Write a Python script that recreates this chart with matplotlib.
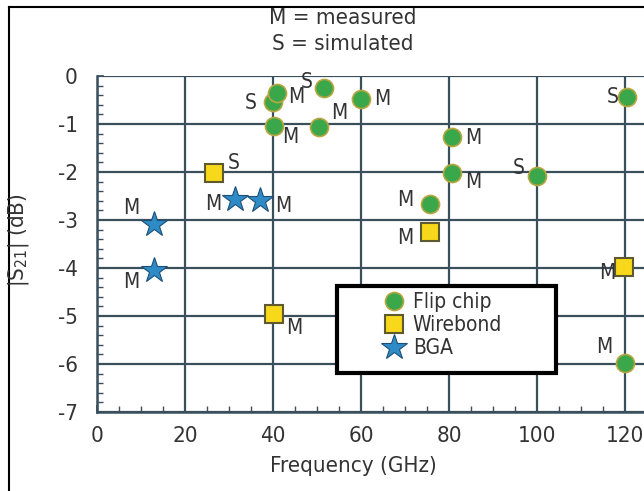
import matplotlib
matplotlib.use("Agg")
from matplotlib import pyplot as plt
from matplotlib.lines import Line2D
from matplotlib.patches import Rectangle
from matplotlib.ticker import MultipleLocator

# frequency (GHz), |S21| (dB), note (M = measured, S = simulated)
flip_x = [40.0, 41.0, 40.3, 50.5, 51.5, 60.0, 80.6, 80.6, 75.7, 100.0, 120.5, 120.0]
flip_y = [-0.55, -0.35, -1.04, -1.06, -0.24, -0.47, -1.28, -2.03, -2.67, -2.08, -0.44, -5.98]
flip_note = ['S', 'M', 'M', 'M', 'S', 'M', 'M', 'M', 'M', 'S', 'S', 'M']

wire_x = [26.5, 75.7, 40.3, 119.8]
wire_y = [-2.03, -3.25, -4.96, -3.98]
wire_note = ['S', 'M', 'M', 'M']

bga_x = [13.0, 13.0, 31.3, 37.0]
bga_y = [-3.08, -4.04, -2.57, -2.58]
bga_note = ['M', 'M', 'M', 'M']

# label offsets in pixels (dx, dy)
flip_off = [(-22, -1), (19, -4), (16, -11), (20, 14), (-17, 6), (21, 0),
            (22, -1), (22, -9), (-25, 4), (-18, 8), (-15, 0), (-21, 16)]
wire_off = [(20, 10), (-25, -6), (20, -14), (-17, -6)]
bga_off = [(-23, 16), (-23, -12), (-21, -5), (23, -6)]

plt.rcParams['font.family'] = ['DejaVu Sans']
plt.rcParams['font.stretch'] = 'condensed'
plt.rcParams['axes.unicode_minus'] = False
txt = '#333333'
grid_c = '#3a4f5c'

fig = plt.figure(figsize=(6.44, 4.91), dpi=100)
ax = fig.add_axes([97 / 644, 1 - 412 / 491, 547 / 644, 336 / 491])

ax.set_xlim(0, 124.3)
ax.set_ylim(-7, 0)
ax.xaxis.set_major_locator(MultipleLocator(20))
ax.xaxis.set_minor_locator(MultipleLocator(5))
ax.yaxis.set_major_locator(MultipleLocator(1))
ax.yaxis.set_minor_locator(MultipleLocator(0.2))
ax.grid(True, which='major', color=grid_c, lw=1.6)
ax.set_axisbelow(True)
for s in ['top', 'right']:
    ax.spines[s].set_visible(False)
for s in ['left', 'bottom']:
    ax.spines[s].set_color(grid_c)
    ax.spines[s].set_linewidth(1.8)
ax.tick_params(which='both', direction='in', colors=grid_c, labelcolor=txt, labelsize=16)
ax.tick_params(which='major', length=5, width=1.2)
ax.tick_params(which='minor', length=4, width=1.0)
ax.tick_params(axis='y', pad=14)
ax.tick_params(axis='x', pad=10)

ax.plot(flip_x, flip_y, 'o', ms=13, mfc='#3aa84a', mec='#b8a640', mew=1.2,
        ls='none', label='Flip chip', zorder=3)
ax.plot(wire_x, wire_y, 's', ms=13, mfc='#f8d81a', mec='#5d5a30', mew=1.5,
        ls='none', label='Wirebond', zorder=3)
ax.plot(bga_x, bga_y, '*', ms=19, mfc='#2f8bc6', mec='#1d4f78', mew=0.8,
        ls='none', label='BGA', zorder=3)

for xs, ys, notes, offs in [(flip_x, flip_y, flip_note, flip_off),
                            (wire_x, wire_y, wire_note, wire_off),
                            (bga_x, bga_y, bga_note, bga_off)]:
    for x, y, n, o in zip(xs, ys, notes, offs):
        ax.annotate(n, (x, y), xytext=o, textcoords='offset pixels',
                    ha='center', va='center', fontsize=15, color=txt, zorder=4)

# legend box drawn separately so it can be wider than its contents
box = Rectangle((0.439, 0.116), 0.40, 0.259, transform=ax.transAxes,
                facecolor='white', edgecolor='black', lw=3, zorder=5)
ax.add_patch(box)
leg = ax.legend(loc='center left', bbox_to_anchor=(0.52, 0.259), fontsize=15,
                frameon=False, labelspacing=0.15, handletextpad=0.3,
                borderaxespad=0, borderpad=0, handlelength=1.2, numpoints=1)
leg.set_zorder(6)
for t in leg.get_texts():
    t.set_color(txt)

fig.text(343 / 644, 1 - 18 / 491, 'M = measured', ha='center', va='center',
         fontsize=16, color=txt)
fig.text(343 / 644, 1 - 44 / 491, 'S = simulated', ha='center', va='center',
         fontsize=16, color=txt)
fig.text(353 / 644, 1 - 466 / 491, 'Frequency (GHz)', ha='center', va='center',
         fontsize=16, color=txt)
fig.text(19 / 644, 1 - 240 / 491, '|S$_{21}$| (dB)', ha='center', va='center',
         rotation=90, fontsize=16, color=txt)

# outer frame (left and top edges)
fig.add_artist(Line2D([9 / 644, 9 / 644], [0, 1 - 7 / 491], transform=fig.transFigure,
                      color='black', lw=1.5))
fig.add_artist(Line2D([9 / 644, 1], [1 - 7 / 491, 1 - 7 / 491], transform=fig.transFigure,
                      color='black', lw=1.5))

fig.savefig('out.png', dpi=100)
